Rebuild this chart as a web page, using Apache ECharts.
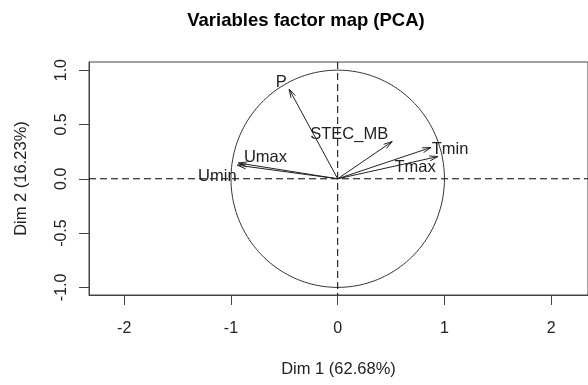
<!DOCTYPE html>
<html>
<head>
<meta charset="utf-8">
<script src="https://cdn.jsdelivr.net/npm/echarts@6/dist/echarts.min.js"></script>
<style>html,body{margin:0;padding:0;background:#fff;}#chart{width:588px;height:385px;}</style>
</head>
<body>
<div id="chart"></div>
<script>
// ---- data ----
const varNames = ['P', 'STEC_MB', 'Tmin', 'Tmax', 'Umax', 'Umin'];
const dim1 = [-0.455, 0.511, 0.874, 0.940, -0.930, -0.940];
const dim2 = [0.825, 0.343, 0.288, 0.205, 0.145, 0.125];
const xTicks = [-2, -1, 0, 1, 2];
const yTicks = [-1, -0.5, 0, 0.5, 1];
const titleText = 'Variables factor map (PCA)';
const xName = 'Dim 1 (62.68%)';
const yName = 'Dim 2 (16.23%)';

// ---- layout (pixel offsets of labels from arrow tips) ----
const labelOffsets = [[-8, -7], [-43, -7], [19, 2], [-23, 11], [27, -6], [-20, 11]];

const FONT = "'Liberation Sans', Arial, sans-serif";
const chart = echarts.init(document.getElementById('chart'), null, {renderer: 'canvas'});

const option = {
  animation: false,
  title: {
    text: titleText, left: 301, top: 6, textAlign: 'center',
    textStyle: {fontFamily: FONT, fontSize: 18.5, fontWeight: 'bold', color: '#000'}
  },
  grid: {left: 89, top: 62, width: 503, height: 233, show: true, borderColor: '#444', borderWidth: 1},
  xAxis: {
    type: 'value', min: -2.33, max: 2.345,
    splitLine: {show: false},
    axisLine: {show: true, onZero: false, lineStyle: {color: '#444', width: 1}},
    axisTick: {show: true, length: 10, customValues: xTicks, lineStyle: {color: '#444', width: 1}},
    axisLabel: {customValues: xTicks, fontFamily: FONT, fontSize: 16, color: '#222', margin: 26},
    name: xName, nameLocation: 'middle', nameGap: 66,
    nameTextStyle: {fontFamily: FONT, fontSize: 16.5, color: '#222'}
  },
  yAxis: {
    type: 'value', min: -1.07, max: 1.075,
    splitLine: {show: false},
    axisLine: {show: true, onZero: false, lineStyle: {color: '#444', width: 1}},
    axisTick: {show: true, length: 10, customValues: yTicks, lineStyle: {color: '#444', width: 1}},
    axisLabel: {customValues: yTicks, rotate: 90, fontFamily: FONT, fontSize: 16, color: '#222', margin: 19,
      formatter: v => v.toFixed(1)},
    name: yName, nameLocation: 'middle', nameGap: 59,
    nameTextStyle: {fontFamily: FONT, fontSize: 16.5, color: '#222'}
  },
  series: [
    {
      // unit circle and dashed zero lines
      type: 'custom', coordinateSystem: 'cartesian2d', silent: true,
      data: [[0, 0]],
      encode: {x: 0, y: 1},
      renderItem: function (params, api) {
        const cs = params.coordSys;
        const o = api.coord([0, 0]);
        const pts = [];
        for (let k = 0; k <= 360; k += 2) {
          const a = k * Math.PI / 180;
          pts.push(api.coord([Math.cos(a), Math.sin(a)]));
        }
        return {
          type: 'group', children: [
            {type: 'polyline', shape: {points: pts}, style: {stroke: '#333', lineWidth: 1, fill: null}},
            {type: 'line', shape: {x1: cs.x, y1: o[1], x2: cs.x + cs.width, y2: o[1]},
              style: {stroke: '#000', lineWidth: 1, lineDash: [7, 4]}},
            {type: 'line', shape: {x1: o[0], y1: cs.y, x2: o[0], y2: cs.y + cs.height},
              style: {stroke: '#000', lineWidth: 1, lineDash: [7, 4]}}
          ]
        };
      }
    },
    {
      // variable arrows
      type: 'custom', coordinateSystem: 'cartesian2d', silent: true,
      data: varNames.map((n, i) => [dim1[i], dim2[i], i]),
      encode: {x: 0, y: 1},
      renderItem: function (params, api) {
        const o = api.coord([0, 0]);
        const t = api.coord([api.value(0), api.value(1)]);
        const ang = Math.atan2(t[1] - o[1], t[0] - o[0]);
        const L = 9, a = 16 * Math.PI / 180;
        const h1 = [t[0] - L * Math.cos(ang - a), t[1] - L * Math.sin(ang - a)];
        const h2 = [t[0] - L * Math.cos(ang + a), t[1] - L * Math.sin(ang + a)];
        const i = api.value(2);
        const off = labelOffsets[i];
        return {
          type: 'group', children: [
            {type: 'line', shape: {x1: o[0], y1: o[1], x2: t[0], y2: t[1]}, style: {stroke: '#222', lineWidth: 1}},
            {type: 'polyline', shape: {points: [h1, t, h2]}, style: {stroke: '#222', lineWidth: 1, fill: null}},
            {type: 'text', x: t[0] + off[0], y: t[1] + off[1],
              style: {text: varNames[i], align: 'center', verticalAlign: 'middle',
                font: '16.5px ' + FONT, fill: '#222'}}
          ]
        };
      }
    }
  ]
};
chart.setOption(option);
</script>
</body>
</html>
